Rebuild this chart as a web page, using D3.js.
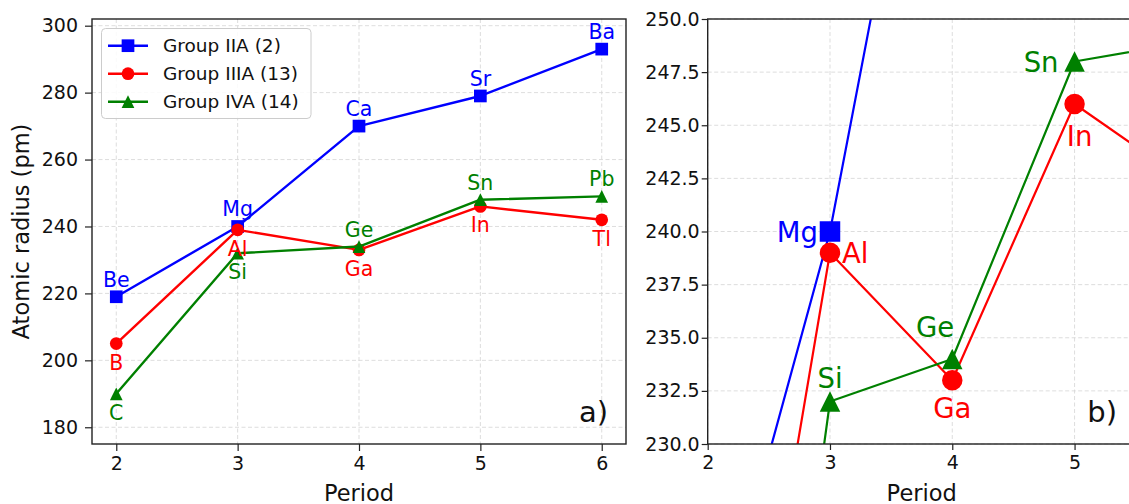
<!DOCTYPE html>
<html>
<head>
<meta charset="utf-8">
<script src="https://cdn.jsdelivr.net/npm/d3@7/dist/d3.min.js"></script>
<style>
  html, body { margin: 0; padding: 0; background: #fff; }
  svg { display: block; font-family: "DejaVu Sans", sans-serif; }
</style>
</head>
<body>
<svg id="chart" width="1129" height="504"></svg>
<script>
// Atomic radii (pm) of groups 2, 13 and 14 across periods 2–6
const periods = [2, 3, 4, 5, 6];
const groupIIA = [219, 240, 270, 279, 293];
const groupIIIA = [205, 239, 233, 246, 242];
const groupIVA = [190, 232, 234, 248, 249];
const symbolsIIA = ["Be", "Mg", "Ca", "Sr", "Ba"];
const symbolsIIIA = ["B", "Al", "Ga", "In", "Tl"];
const symbolsIVA = ["C", "Si", "Ge", "Sn", "Pb"];
const seriesNames = ["Group IIA (2)", "Group IIIA (13)", "Group IVA (14)"];

const leftXTicks = [2, 3, 4, 5, 6];
const leftYTicks = [180, 200, 220, 240, 260, 280, 300];
const rightXTicks = [2, 3, 4, 5];
const rightYTicks = [230, 232.5, 235, 237.5, 240, 242.5, 245, 247.5, 250];

const colors = ["#0000ff", "#ff0000", "#008000"];
const markers = ["square", "circle", "triangle"];

const series = [
  { name: seriesNames[0], values: groupIIA, symbols: symbolsIIA, color: colors[0], marker: markers[0] },
  { name: seriesNames[1], values: groupIIIA, symbols: symbolsIIIA, color: colors[1], marker: markers[1] },
  { name: seriesNames[2], values: groupIVA, symbols: symbolsIVA, color: colors[2], marker: markers[2] }
];

// label placement for each element in the overview panel: above or below the marker
const overviewBelow = new Set(["B", "Al", "Ga", "In", "Tl", "C", "Si"]);

// label placement in the zoomed panel: anchor and offset from the marker centre
const zoomPlacement = {
  Mg: { anchor: "end", dx: -12, dy: 10 },
  Al: { anchor: "start", dx: 12, dy: 10 },
  Si: { anchor: "middle", dx: 0, dy: -14 },
  Ge: { anchor: "end", dx: 2, dy: -22 },
  Ga: { anchor: "middle", dx: 0, dy: 38 },
  Sn: { anchor: "end", dx: -16, dy: 10 },
  In: { anchor: "middle", dx: 5, dy: 42 }
};

const svg = d3.select("#chart");

function markerPath(kind, size) {
  const h = size / 2;
  if (kind === "square") return `M${-h},${-h}H${h}V${h}H${-h}Z`;
  if (kind === "triangle") return `M0,${-h}L${-h},${h}L${h},${h}Z`;
  return d3.symbol(d3.symbolCircle, Math.PI * h * h)();
}

function drawPanel(cfg) {
  const x = d3.scaleLinear().domain(cfg.xDomain).range([cfg.left, cfg.right]);
  const y = d3.scaleLinear().domain(cfg.yDomain).range([cfg.bottom, cfg.top]);
  const g = svg.append("g");

  const clipId = "clip-" + cfg.id;
  svg.append("clipPath").attr("id", clipId)
    .append("rect")
    .attr("x", cfg.left).attr("y", cfg.top)
    .attr("width", cfg.right - cfg.left).attr("height", cfg.bottom - cfg.top);

  // grid
  const grid = g.append("g").attr("stroke", "#d4d4d4").attr("stroke-width", 0.8)
    .attr("stroke-dasharray", "4,2.5");
  grid.selectAll("line.gx").data(cfg.xTicks).join("line")
    .attr("x1", d => x(d)).attr("x2", d => x(d))
    .attr("y1", cfg.top).attr("y2", cfg.bottom);
  grid.selectAll("line.gy").data(cfg.yTicks).join("line")
    .attr("class", "gy")
    .attr("x1", cfg.left).attr("x2", cfg.right)
    .attr("y1", d => y(d)).attr("y2", d => y(d));

  // series lines, markers
  const plot = g.append("g").attr("clip-path", `url(#${clipId})`);
  const line = d3.line().x((d, i) => x(periods[i])).y(d => y(d));
  series.forEach(s => {
    plot.append("path").datum(s.values)
      .attr("d", line)
      .attr("fill", "none")
      .attr("stroke", s.color)
      .attr("stroke-width", cfg.lineWidth)
      .attr("stroke-linejoin", "round");
    plot.selectAll(null).data(s.values).join("path")
      .attr("transform", (d, i) => `translate(${x(periods[i])},${y(d)})`)
      .attr("d", markerPath(s.marker, cfg.markerSize))
      .attr("fill", s.color);
  });

  // element labels
  const labels = g.append("g");
  series.forEach(s => {
    s.values.forEach((v, i) => {
      const sym = s.symbols[i];
      const px = x(periods[i]), py = y(v);
      const p = cfg.place(sym);
      if (!p) return;
      labels.append("text")
        .attr("x", px + p.dx).attr("y", py + p.dy)
        .attr("text-anchor", p.anchor)
        .attr("font-size", cfg.labelSize)
        .attr("fill", s.color)
        .text(sym);
    });
  });

  // axes
  const xAxis = d3.axisBottom(x).tickValues(cfg.xTicks).tickFormat(d3.format("d"))
    .tickSize(cfg.tickLen).tickPadding(cfg.xPad);
  const yAxis = d3.axisLeft(y).tickValues(cfg.yTicks).tickFormat(cfg.yFormat)
    .tickSize(cfg.tickLen).tickPadding(cfg.yPad);
  const gx = g.append("g").attr("transform", `translate(0,${cfg.bottom})`).call(xAxis);
  const gy = g.append("g").attr("transform", `translate(${cfg.left},0)`).call(yAxis);
  [gx, gy].forEach(a => {
    a.select(".domain").remove();
    a.selectAll("line").attr("stroke", "#222").attr("stroke-width", 1.2);
    a.selectAll("text").attr("font-size", 19).attr("fill", "#111")
      .attr("font-family", "DejaVu Sans");
  });

  // frame
  g.append("rect")
    .attr("x", cfg.left).attr("y", cfg.top)
    .attr("width", cfg.right - cfg.left).attr("height", cfg.bottom - cfg.top)
    .attr("fill", "none").attr("stroke", "#222").attr("stroke-width", 1.4);

  // x label
  g.append("text")
    .attr("x", (cfg.left + cfg.right) / 2).attr("y", 501)
    .attr("text-anchor", "middle").attr("font-size", 22.5).attr("fill", "#111")
    .text("Period");

  // panel tag
  g.append("text")
    .attr("x", cfg.tagX).attr("y", 422)
    .attr("text-anchor", "end").attr("font-size", 29).attr("fill", "#111")
    .text(cfg.tag);

  return { x, y, g };
}

// overview panel
drawPanel({
  id: "a", left: 92, right: 626, top: 19, bottom: 444,
  xDomain: [1.8, 6.2], yDomain: [175, 302],
  xTicks: leftXTicks, yTicks: leftYTicks,
  yFormat: d3.format("d"), tickLen: 7, xPad: 6, yPad: 7,
  lineWidth: 2.4, markerSize: 12.7, labelSize: 20.5,
  place: sym => overviewBelow.has(sym)
    ? { anchor: "middle", dx: 0, dy: 26 }
    : { anchor: "middle", dx: 0, dy: -10 },
  tag: "a)", tagX: 608
});

// zoomed panel
drawPanel({
  id: "b", left: 707.7, right: 1135.7, top: 19, bottom: 444,
  xDomain: [2, 5.5], yDomain: [230, 250],
  xTicks: rightXTicks, yTicks: rightYTicks,
  yFormat: d3.format(".1f"), tickLen: 6, xPad: 6, yPad: 2,
  lineWidth: 2.2, markerSize: 20.5, labelSize: 27.5,
  place: sym => zoomPlacement[sym] || null,
  tag: "b)", tagX: 1117
});

// legend
const legend = svg.append("g");
legend.append("rect")
  .attr("x", 101.5).attr("y", 28.5).attr("width", 209.5).attr("height", 90)
  .attr("rx", 4).attr("fill", "#fff").attr("fill-opacity", 0.85)
  .attr("stroke", "#cccccc").attr("stroke-width", 1);
const entries = legend.selectAll("g.entry").data(series).join("g")
  .attr("class", "entry")
  .attr("transform", (d, i) => `translate(0,${45.7 + i * 28})`);
entries.append("line")
  .attr("x1", 108).attr("x2", 148)
  .attr("stroke", d => d.color).attr("stroke-width", 2.4);
entries.append("path")
  .attr("transform", "translate(128,0)")
  .attr("d", d => markerPath(d.marker, 12.7))
  .attr("fill", d => d.color);
entries.append("text")
  .attr("x", 163).attr("y", 6.5)
  .attr("font-size", 18.5).attr("fill", "#111")
  .text(d => d.name);

// y label
svg.append("text")
  .attr("transform", "translate(29,231.5) rotate(-90)")
  .attr("text-anchor", "middle").attr("font-size", 22.5).attr("fill", "#111")
  .text("Atomic radius (pm)");
</script>
</body>
</html>
